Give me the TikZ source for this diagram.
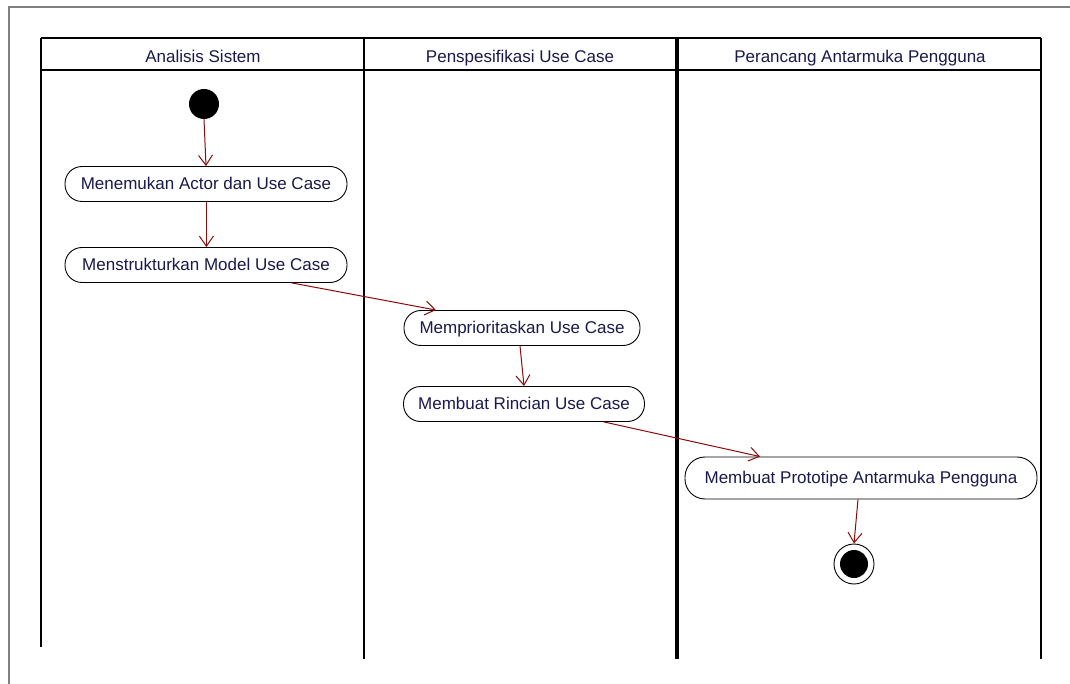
\documentclass[tikz,border=0pt]{standalone}
\usepackage{fontspec}
\setmainfont{Liberation Sans}
\usetikzlibrary{arrows.meta,calc}
\definecolor{flow}{RGB}{140,10,10}
\definecolor{txt}{RGB}{25,25,75}
\definecolor{frame}{RGB}{128,128,128}
\tikzset{
  act/.style={draw=black, line width=0.9pt, rounded corners=17pt, minimum height=35pt,
    inner sep=0pt, text=txt, font=\fontsize{17}{20}\selectfont, fill=white,
    text height=14pt, text depth=3pt},
  lane/.style={line width=2.6pt, black},
  hdr/.style={text=txt, font=\fontsize{17}{20}\selectfont, text height=14pt, text depth=3pt},
  flowarrow/.style={draw=flow, line width=1pt, -{Straight Barb[length=10pt,width=14pt,line width=1pt]}},
}
\begin{document}
\begin{tikzpicture}[x=1pt,y=-1pt]
\useasboundingbox (0,0) rectangle (1070,684);
\fill[white] (0,0) rectangle (1070,684);
% outer frame
\draw[frame, line width=1.2pt] (9,684) -- (9,7) -- (1070,7);
% swimlanes
\draw[lane] (41,38) -- (1041,38);
\draw[lane] (41,70) -- (1041,70);
\draw[lane] (41,38) -- (41,647);
\draw[lane] (364,38) -- (364,659);
\draw[lane, line width=3.6pt] (677,38) -- (677,659);
\draw[lane] (1041,38) -- (1041,659);
\node[hdr] (h1) at (203,57) {Analisis Sistem};
\node[hdr] (h2) at (520,57) {Penspesifikasi Use Case};
\node[hdr] (h3) at (860,57) {Perancang Antarmuka Pengguna};
% nodes
\node[circle, fill=black, minimum size=30pt, inner sep=0pt] (init) at (204,104) {};
\node[act, minimum width=282pt] (n1) at (206,184) {Menemukan Actor dan Use Case};
\node[act, minimum width=282pt] (n2) at (206,265) {Menstrukturkan Model Use Case};
\node[act, minimum width=236pt] (n3) at (522,328) {Memprioritaskan Use Case};
\node[act, minimum width=241pt] (n4) at (524,404) {Membuat Rincian Use Case};
\node[act, minimum width=352pt, minimum height=42pt, rounded corners=20pt] (n5) at (861,478) {Membuat Prototipe Antarmuka Pengguna};
\node[circle, draw=black, line width=0.9pt, minimum size=40pt, inner sep=0pt] (fin) at (854,564) {};
\node[circle, fill=black, minimum size=28pt, inner sep=0pt] (finin) at (fin.center) {};
% flows
\draw[flowarrow] (init.south) -- (n1.north);
\draw[flowarrow] ($(n1.south)+(0.4,0)$) -- ($(n2.north)+(0.4,0)$);
\draw[flowarrow] ($(n2.south)+(86,0)$) -- ($(n3.north)+(-86,0)$);
\draw[flowarrow] ($(n3.south)+(-2,0)$) -- (n4.north);
\draw[flowarrow] ($(n4.south)+(80,0)$) -- ($(n5.north)+(-101,0)$);
\draw[flowarrow] ($(n5.south)+(-3,0)$) -- (fin.north);
\end{tikzpicture}
\end{document}
